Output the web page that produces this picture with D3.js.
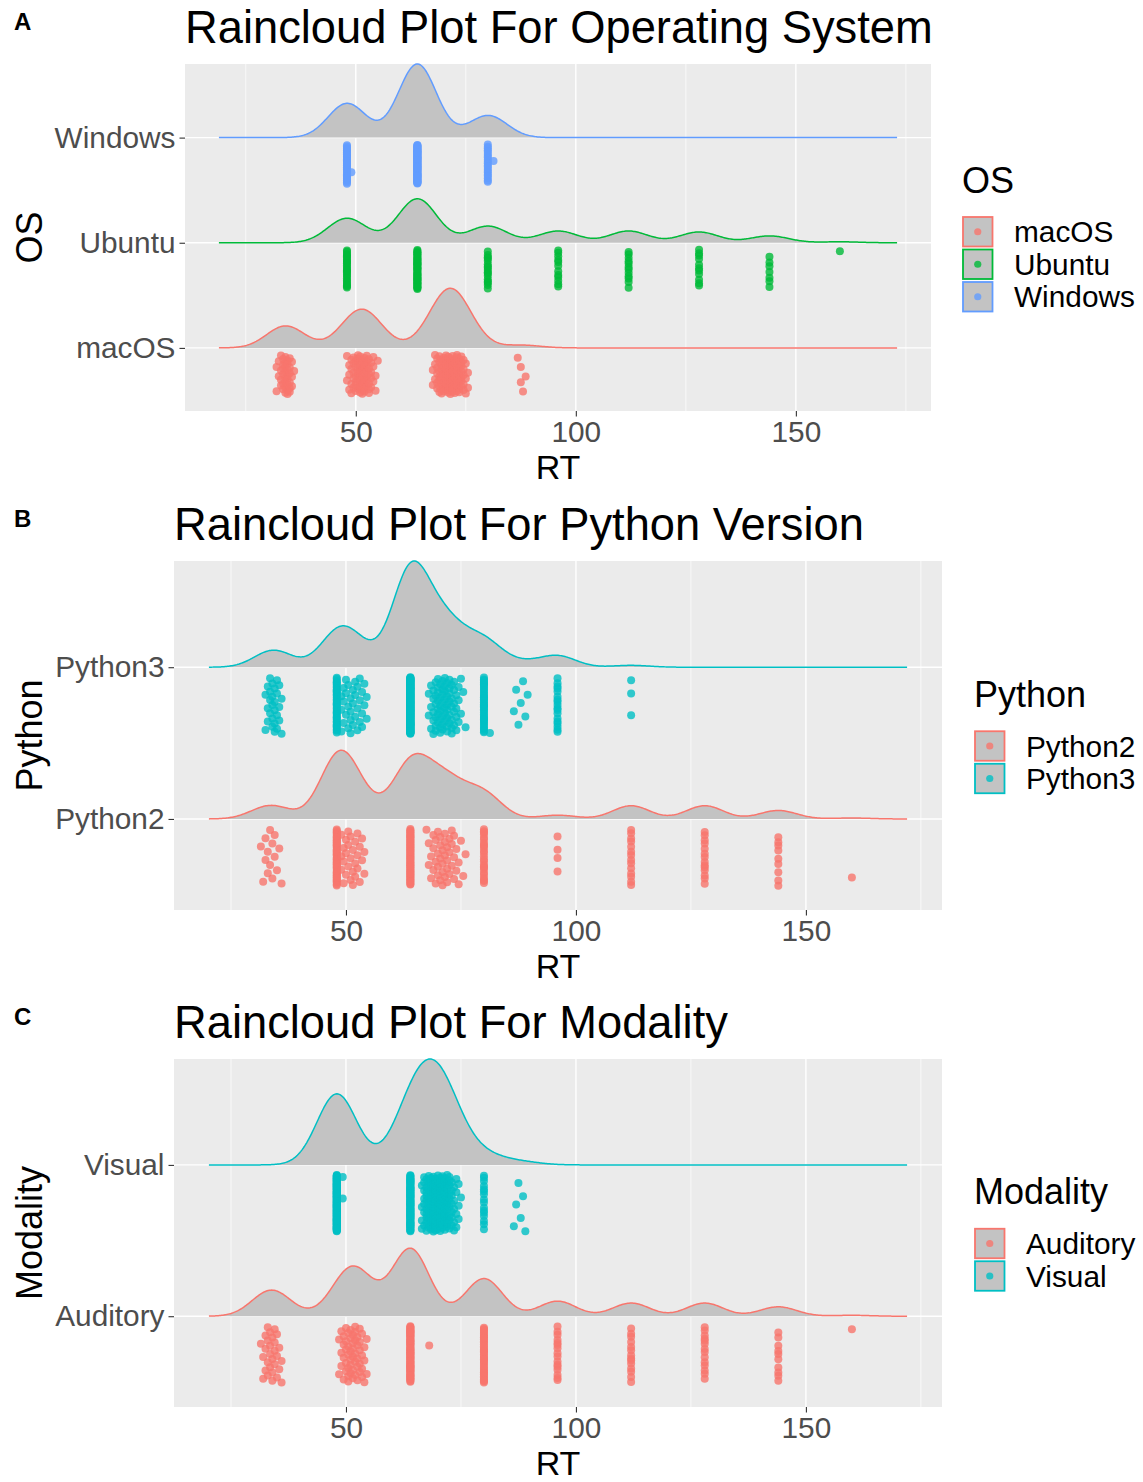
<!DOCTYPE html>
<html>
<head>
<meta charset="utf-8">
<script src="https://cdn.jsdelivr.net/npm/d3@7"></script>
<style>
body { margin: 0; background: #fff; }
svg text { font-family: "Liberation Sans", Arial, sans-serif; }
</style>
</head>
<body>
<svg id="chart" width="1143" height="1482"></svg>
<script>
// ---------- data ----------
const xTicks = [50, 100, 150]
const xMinorTicks = [25, 75, 125, 175]

// panel A: operating system
const osCategories = ["macOS", "Ubuntu", "Windows"]
const macosRT = [32, 32.5, 33, 33.5, 34, 34.5, 35, 35.5, 36,
    48, 48.5, 49, 49.5, 50, 50.5, 51, 51.5, 52, 52.5, 53, 53.5, 54, 54.5, 55,
    67.5, 68, 68.5, 69, 69.5, 70, 70.5, 71, 71.5, 72, 72.5, 73, 73.5, 74, 74.5, 75, 75.5,
    86.8, 87.5, 88, 88.6]
const macosN = [2, 2, 4, 6, 8, 8, 6, 3, 1,
    2, 3, 4, 5, 6, 7, 8, 8, 8, 7, 6, 4, 3, 2, 1,
    2, 3, 5, 7, 8, 9, 10, 10, 10, 10, 9, 9, 8, 7, 5, 3, 2,
    1, 2, 1, 1]
const ubuntuRT = [48, 64, 80, 96, 112, 128, 144, 160]
const ubuntuN = [25, 45, 17, 12, 12, 11, 7, 1]
const windowsRT = [48, 49, 64, 80, 81.3]
const windowsN = [33, 1, 73, 21, 1]
const osBandwidth = [4.2, 4.4, 4.3]

// panel B: python version
const pythonCategories = ["Python2", "Python3"]
const python2RT = [31.5, 32, 32.5, 33, 33.5, 34, 34.5, 35, 35.5, 36,
    48, 49, 49.5, 50, 50.5, 51, 51.5, 52, 52.5, 53, 53.5, 54,
    64, 67.5, 68, 68.5, 69, 69.5, 70, 70.5, 71, 71.5, 72, 72.5, 73, 73.5, 74, 74.5, 75, 75.5, 76,
    80, 96, 112, 128, 144, 160]
const python2N = [1, 1, 2, 2, 2, 2, 2, 1, 1, 1,
    50, 3, 3, 3, 3, 3, 3, 3, 3, 2, 2, 2,
    55, 1, 2, 2, 3, 3, 4, 4, 4, 4, 4, 3, 3, 3, 2, 2, 1, 1, 1,
    25, 4, 14, 14, 9, 1]
const python3RT = [32.5, 33, 33.5, 34, 34.5, 35, 35.5, 36,
    48, 49, 49.5, 50, 50.5, 51, 51.5, 52, 52.5, 53, 53.5, 54, 54.5,
    64, 68, 68.5, 69, 69.5, 70, 70.5, 71, 71.5, 72, 72.5, 73, 73.5, 74, 74.5, 75, 75.5, 76,
    80, 81.3, 86.5, 87, 87.5, 88, 88.5, 89, 89.5, 96, 112]
const python3N = [2, 3, 4, 5, 5, 4, 3, 2,
    40, 3, 3, 3, 3, 4, 3, 3, 3, 3, 3, 2, 2,
    150, 2, 3, 5, 6, 7, 7, 7, 7, 7, 6, 6, 5, 4, 3, 2, 1, 1,
    38, 1, 1, 1, 1, 1, 1, 1, 1, 18, 3]
const pythonBandwidth = [4.0, 4.0]

// panel C: modality
const modalityCategories = ["Auditory", "Visual"]
const auditoryRT = [31.5, 32, 32.5, 33, 33.5, 34, 34.5, 35, 35.5, 36,
    48.5, 49, 49.5, 50, 50.5, 51, 51.5, 52, 52.5, 53, 53.5, 54, 54.5,
    64, 68.1, 80, 96, 112, 128, 144, 160]
const auditoryN = [1, 2, 3, 4, 4, 4, 4, 3, 2, 2,
    2, 3, 4, 5, 6, 6, 6, 6, 5, 5, 4, 3, 2,
    71, 1, 40, 16, 14, 14, 10, 1]
const visualRT = [48, 49.3, 64, 66.5, 67, 67.5, 68, 68.5, 69, 69.5, 70, 70.5, 71, 71.5, 72, 72.5, 73,
    73.5, 74, 74.5, 75, 80, 86.5, 87, 87.5, 88, 88.5, 89]
const visualN = [128, 2, 83, 4, 7, 10, 12, 14, 15, 15, 15, 14, 13, 12, 10, 9, 7,
    5, 4, 3, 1, 16, 1, 1, 1, 1, 1, 1]
const modalityBandwidth = [4.0, 4.3]

const hue3 = ["#F8766D", "#00BA38", "#619CFF"]
const hue2 = ["#F8766D", "#00BFC4"]

// ---------- layout ----------
const panels = [
    {letter: "A", title: "Raincloud Plot For Operating System", yTitle: "OS",
        cats: osCategories, rts: [macosRT, ubuntuRT, windowsRT], ns: [macosN, ubuntuN, windowsN],
        bws: osBandwidth, colors: hue3, densRange: [18.9, 173.0],
        left: 185, right: 931, top: 64, bottom: 411, legendX: 962},
    {letter: "B", title: "Raincloud Plot For Python Version", yTitle: "Python",
        cats: pythonCategories, rts: [python2RT, python3RT], ns: [python2N, python3N],
        bws: pythonBandwidth, colors: hue2, densRange: [20.2, 172.0],
        left: 174, right: 942, top: 561, bottom: 910, legendX: 974},
    {letter: "C", title: "Raincloud Plot For Modality", yTitle: "Modality",
        cats: modalityCategories, rts: [auditoryRT, visualRT], ns: [auditoryN, visualN],
        bws: modalityBandwidth, colors: hue2, densRange: [20.2, 172.0],
        left: 174, right: 942, top: 1059, bottom: 1407, legendX: 974},
]

const fontFamily = '"Liberation Sans", Arial, sans-serif'
const violinWidth = 0.7
const densityFill = "#C3C3C3"
const svg = d3.select("#chart")

function kde(values, counts, bw, grid) {
    const total = d3.sum(counts)
    const norm = total * bw * Math.sqrt(2 * Math.PI)
    return grid.map(x => {
        let s = 0
        values.forEach((v, i) => {
            const z = (x - v) / bw
            s += counts[i] * Math.exp(-0.5 * z * z)
        })
        return [x, s / norm]
    })
}

panels.forEach(p => {
    const [lo, hi] = p.densRange
    const pad = (hi - lo) * 0.05
    const x = d3.scaleLinear([lo - pad, hi + pad], [p.left, p.right])
    const n = p.cats.length
    const y = d3.scaleLinear([-0.6, n - 1 + violinWidth], [p.bottom, p.top])
    const g = svg.append("g")

    // background + grid
    g.append("rect")
        .attr("x", p.left).attr("y", p.top)
        .attr("width", p.right - p.left).attr("height", p.bottom - p.top)
        .attr("fill", "#EBEBEB")
    g.append("g").selectAll("line")
        .data(xMinorTicks.filter(t => t > x.domain()[0] && t < x.domain()[1]))
        .join("line")
        .attr("x1", d => x(d)).attr("x2", d => x(d))
        .attr("y1", p.top).attr("y2", p.bottom)
        .attr("stroke", "#fff").attr("stroke-width", 0.7)
    g.append("g").selectAll("line")
        .data(xTicks)
        .join("line")
        .attr("x1", d => x(d)).attr("x2", d => x(d))
        .attr("y1", p.top).attr("y2", p.bottom)
        .attr("stroke", "#fff").attr("stroke-width", 1.4)
    g.append("g").selectAll("line")
        .data(d3.range(n))
        .join("line")
        .attr("x1", p.left).attr("x2", p.right)
        .attr("y1", d => y(d)).attr("y2", d => y(d))
        .attr("stroke", "#fff").attr("stroke-width", 1.4)

    // densities
    const grid = d3.range(0, 601).map(i => lo + (hi - lo) * i / 600)
    const dens = p.cats.map((c, i) => kde(p.rts[i], p.ns[i], p.bws[i], grid))
    const maxD = d3.max(dens, d => d3.max(d, e => e[1]))
    const k = violinWidth / maxD

    dens.forEach((d, i) => {
        const area = d3.area()
            .x(e => x(e[0]))
            .y0(y(i))
            .y1(e => y(i + e[1] * k))
        const line = d3.line()
            .x(e => x(e[0]))
            .y(e => y(i + e[1] * k))
        g.append("path").attr("d", area(d)).attr("fill", densityFill)
        g.append("path").attr("d", line(d))
            .attr("fill", "none").attr("stroke", p.colors[i]).attr("stroke-width", 1.5)
    })

    // rain points (vertical jitter from a golden-ratio sequence)
    p.cats.forEach((c, i) => {
        const pts = []
        let idx = 0
        p.rts[i].forEach((v, j) => {
            for (let r = 0; r < p.ns[i][j]; r++) {
                const u = (idx * 0.6180339887 + 0.31) % 1
                pts.push({rt: v, off: 0.066 + 0.374 * u})
                idx++
            }
        })
        g.append("g").selectAll("circle")
            .data(pts)
            .join("circle")
            .attr("cx", d => x(d.rt))
            .attr("cy", d => y(i - d.off))
            .attr("r", 4)
            .attr("fill", p.colors[i])
            .attr("fill-opacity", 0.8)
    })

    // axes
    g.append("g")
        .attr("transform", `translate(0,${p.bottom})`)
        .call(d3.axisBottom(x).tickValues(xTicks).tickSize(5.5).tickPadding(4.5))
        .call(a => a.select(".domain").remove())
        .call(a => a.selectAll(".tick line").attr("stroke", "#333").attr("stroke-width", 1.1))
        .call(a => a.selectAll(".tick text").attr("fill", "#4D4D4D"))
        .attr("font-size", 29.8).attr("font-family", fontFamily)
    g.append("g")
        .attr("transform", `translate(${p.left},0)`)
        .call(d3.axisLeft(y).tickValues(d3.range(n)).tickFormat(i => p.cats[i]).tickSize(5.5).tickPadding(4))
        .call(a => a.select(".domain").remove())
        .call(a => a.selectAll(".tick line").attr("stroke", "#333").attr("stroke-width", 1.1))
        .call(a => a.selectAll(".tick text").attr("fill", "#4D4D4D"))
        .attr("font-size", 29.8).attr("font-family", fontFamily)

    // titles
    g.append("text")
        .attr("x", p.left).attr("y", p.top - 21)
        .attr("font-size", 45.3).attr("fill", "#000")
        .text(p.title)
    g.append("text")
        .attr("x", 14).attr("y", p.top - 34)
        .attr("font-size", 24).attr("font-weight", "bold")
        .text(p.letter)
    g.append("text")
        .attr("x", (p.left + p.right) / 2).attr("y", p.bottom + 68)
        .attr("text-anchor", "middle").attr("font-size", 34)
        .text("RT")
    g.append("text")
        .attr("transform", `translate(42,${(p.top + p.bottom) / 2}) rotate(-90)`)
        .attr("text-anchor", "middle").attr("font-size", 36)
        .text(p.yTitle)

    // legend
    const blockH = 44.5 + n * 32.5
    const lTop = (p.top + p.bottom) / 2 + 5 - blockH / 2
    const lg = g.append("g").attr("transform", `translate(${p.legendX},${lTop})`)
    lg.append("text").attr("x", 0).attr("y", 21).attr("font-size", 36).text(p.yTitle)
    p.cats.forEach((c, i) => {
        const ky = 44.5 + i * 32.5
        lg.append("rect")
            .attr("x", 1).attr("y", ky + 1).attr("width", 29.5).attr("height", 29.5)
            .attr("fill", densityFill).attr("stroke", p.colors[i]).attr("stroke-width", 1.8)
        lg.append("circle")
            .attr("cx", 15.75).attr("cy", ky + 15.75).attr("r", 3.6)
            .attr("fill", p.colors[i]).attr("fill-opacity", 0.8)
        lg.append("text")
            .attr("x", 52).attr("y", ky + 16).attr("dy", "0.35em")
            .attr("font-size", 29.8).text(c)
    })
})
</script>
</body>
</html>
